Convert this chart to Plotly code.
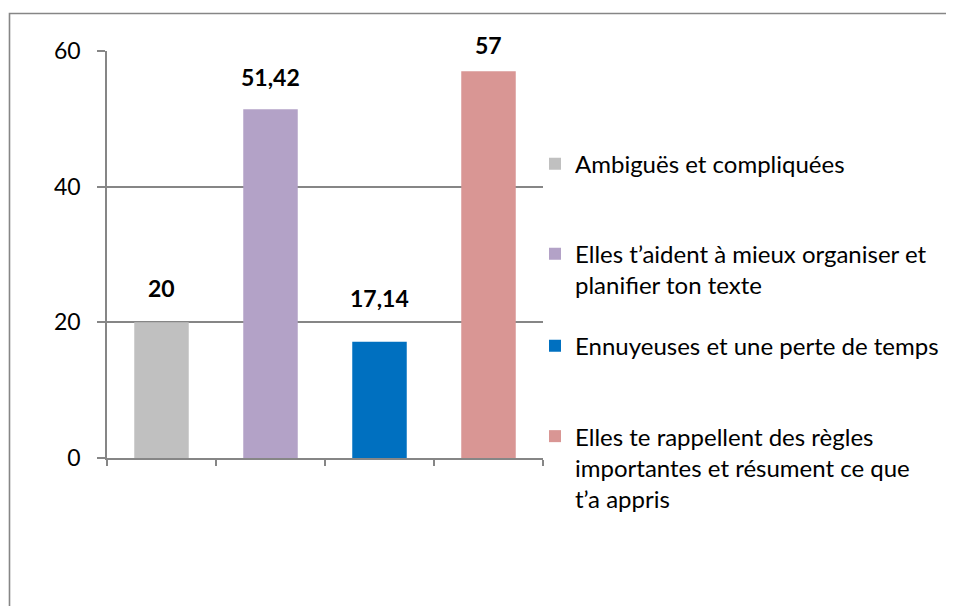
import plotly.graph_objects as go

OUTPUT_HTML = "out.html"

CATEGORIES = [
    "Ambiguës et compliquées",
    "Elles t’aident à mieux organiser et<br>planifier ton texte",
    "Ennuyeuses et une perte de temps",
    "Elles te rappellent des règles<br>importantes et résument ce que<br>t’a appris",
]
VALUES = [20, 51.42, 17.14, 57]
Y_TICKS = [0, 20, 40, 60]

COLORS = ["#C0C0C0", "#B3A2C7", "#0070C0", "#D99694"]
AXIS_GRAY = "#868686"
FONT = "Lato, Calibri, sans-serif"

# vertical offset (px) of each value label above its bar top, as laid out in the original
LABEL_OFFSETS = [34, 32, 44, 26]
# top of each legend block, paper coords
LEGEND_TOPS = [0.777, 0.556, 0.330, 0.108]

# the page body adds an 8px margin, so the figure is shifted up/left by that much
PAGE_PAD = 8
W, H = 954, 606
ML, MT = 107 - PAGE_PAD, 51 - PAGE_PAD
plot_w, plot_h = 436, 407
MR = W - ML - plot_w
MB = H - MT - plot_h


def px_x(px):
    return (px - PAGE_PAD - ML) / plot_w


def px_y(py):
    return (MT + plot_h - (py - PAGE_PAD)) / plot_h


fig = go.Figure()

for i, (cat, val) in enumerate(zip(CATEGORIES, VALUES)):
    legend_id = "legend" if i == 0 else f"legend{i + 1}"
    fig.add_trace(go.Bar(
        x=[cat], y=[val],
        name=cat,
        marker=dict(color=COLORS[i], line=dict(width=0)),
        legend=legend_id,
        hoverinfo="name+y",
    ))
    fig.add_annotation(
        x=cat, y=val,
        text=f"<b>{val:g}</b>".replace(".", ","),
        showarrow=False,
        yanchor="middle",
        yshift=LABEL_OFFSETS[i],
        font=dict(size=23, color="black", family=FONT),
    )

legend_style = dict(
    x=px_x(535), xanchor="left", yanchor="top",
    font=dict(size=24, color="black", family=FONT),
    bgcolor="rgba(0,0,0,0)", valign="top",
)
legends = {}
for i, top in enumerate(LEGEND_TOPS):
    key = "legend" if i == 0 else f"legend{i + 1}"
    legends[key] = dict(legend_style, y=top)

# outer chart border (only left and top edges fall inside the picture)
fig.add_shape(
    type="rect", xref="paper", yref="paper",
    x0=px_x(9.5), x1=px_x(W + 20), y0=px_y(H + 20), y1=px_y(13.5),
    line=dict(color=AXIS_GRAY, width=1.6), fillcolor="rgba(0,0,0,0)",
    layer="below",
)

fig.update_layout(
    width=W, height=H,
    margin=dict(l=ML, r=MR, t=MT, b=MB, autoexpand=False),
    paper_bgcolor="white", plot_bgcolor="white",
    barmode="overlay", bargap=0.5,
    showlegend=True,
    font=dict(family=FONT, size=23, color="black"),
    **legends,
)
fig.update_xaxes(
    type="category", range=[-0.5, 3.5],
    showticklabels=False, showgrid=False, zeroline=False,
    showline=True, linecolor=AXIS_GRAY, linewidth=1.5,
    ticks="outside", tickson="boundaries", ticklen=6, tickcolor=AXIS_GRAY, tickwidth=1.5,
)
fig.update_yaxes(
    range=[0, 60], tickvals=Y_TICKS,
    showgrid=True, gridcolor=AXIS_GRAY, gridwidth=1.5, zeroline=False,
    showline=True, linecolor=AXIS_GRAY, linewidth=1.5,
    ticks="outside", ticklen=8, tickcolor=AXIS_GRAY, tickwidth=1.5,
    ticklabelstandoff=12,
    tickfont=dict(size=23, family=FONT, color="black"),
)

fig.write_html(OUTPUT_HTML)
